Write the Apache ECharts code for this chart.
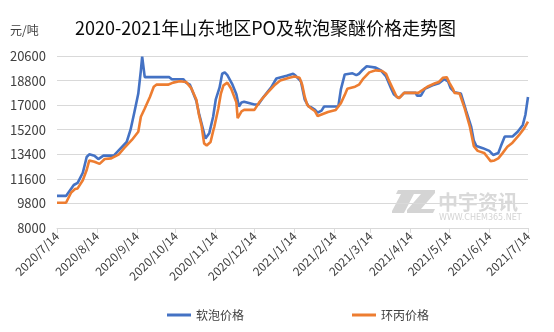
<!DOCTYPE html>
<html>
<head>
<meta charset="utf-8">
<script src="https://cdn.jsdelivr.net/npm/echarts@6/dist/echarts.min.js"></script>
<style>
  html, body { margin: 0; padding: 0; background: #fff; }
  #chart { width: 554px; height: 332px; }
</style>
</head>
<body>
<div id="chart"></div>
<script>
// 软泡聚醚价格 (元/吨)
const softFoamDates = [
  '2020-07-14','2020-07-21','2020-07-27','2020-07-30','2020-08-03','2020-08-06','2020-08-08','2020-08-12',
  '2020-08-15','2020-08-19','2020-08-27','2020-08-31','2020-09-06','2020-09-09','2020-09-12','2020-09-15',
  '2020-09-17','2020-09-18','2020-09-20','2020-10-09','2020-10-11','2020-10-20','2020-10-22','2020-10-25',
  '2020-10-30','2020-11-01','2020-11-04','2020-11-06','2020-11-09','2020-11-12','2020-11-14','2020-11-17',
  '2020-11-19','2020-11-21','2020-11-23','2020-11-27','2020-11-30','2020-12-02','2020-12-04','2020-12-06',
  '2020-12-14','2020-12-17','2020-12-21','2020-12-27','2020-12-31','2021-01-08','2021-01-13','2021-01-15',
  '2021-01-19','2021-01-22','2021-01-25','2021-01-27','2021-01-30','2021-02-01','2021-02-04','2021-02-06',
  '2021-02-17','2021-02-19','2021-02-22','2021-02-28','2021-03-03','2021-03-05','2021-03-08','2021-03-11',
  '2021-03-18','2021-03-22','2021-03-26','2021-03-30','2021-04-01','2021-04-04','2021-04-06','2021-04-09',
  '2021-04-18','2021-04-19','2021-04-22','2021-04-25','2021-05-01','2021-05-06','2021-05-10','2021-05-13',
  '2021-05-15','2021-05-18','2021-05-23','2021-05-27','2021-05-31','2021-06-02','2021-06-04','2021-06-09',
  '2021-06-14','2021-06-17','2021-06-21','2021-06-23','2021-06-26','2021-07-02','2021-07-06','2021-07-10',
  '2021-07-12','2021-07-14'
];
const softFoamPrices = [
  10350, 10350, 11150, 11300, 12050, 13200, 13400, 13300,
  13050, 13300, 13300, 13700, 14300, 15200, 16500, 17850,
  19550, 20550, 19050, 19050, 18900, 18900, 18650, 18500,
  17300, 16400, 15300, 14550, 14950, 16150, 17400, 18300,
  19300, 19400, 19200, 18500, 17800, 16900, 17200, 17250,
  17050, 17050, 17600, 18300, 18950, 19150, 19300, 19150,
  18750, 17400, 16900, 16850, 16650, 16450, 16600, 16900,
  16900, 18150, 19250, 19330, 19200, 19300, 19600, 19850,
  19750, 19550, 19100, 18200, 17800, 17550, 17600, 17900,
  17900, 17700, 17700, 18200, 18450, 18600, 18900, 18750,
  18250, 17950, 17850, 16600, 15400, 14400, 14000, 13850,
  13650, 13350, 13500, 14000, 14700, 14700, 15050, 15550,
  16300, 17600
];

// 环丙价格 (元/吨)
const poDates = [
  '2020-07-14','2020-07-21','2020-07-25','2020-07-28','2020-07-30','2020-08-03','2020-08-06','2020-08-08',
  '2020-08-12','2020-08-16','2020-08-20','2020-08-25','2020-08-28','2020-08-31','2020-09-04','2020-09-10',
  '2020-09-15','2020-09-17','2020-09-20','2020-09-24','2020-09-27','2020-09-29','2020-10-08','2020-10-12',
  '2020-10-17','2020-10-22','2020-10-26','2020-10-30','2020-11-01','2020-11-03','2020-11-05','2020-11-07',
  '2020-11-10','2020-11-12','2020-11-13','2020-11-16','2020-11-18','2020-11-20','2020-11-23','2020-11-26',
  '2020-11-30','2020-12-01','2020-12-04','2020-12-06','2020-12-14','2020-12-18','2020-12-24','2020-12-30',
  '2021-01-03','2021-01-10','2021-01-14','2021-01-18','2021-01-20','2021-01-22','2021-01-24','2021-01-27',
  '2021-01-30','2021-02-01','2021-02-05','2021-02-09','2021-02-15','2021-02-19','2021-02-22','2021-02-24',
  '2021-03-02','2021-03-05','2021-03-08','2021-03-13','2021-03-18','2021-03-23','2021-03-26','2021-03-28',
  '2021-03-31','2021-04-03','2021-04-05','2021-04-09','2021-04-20','2021-04-27','2021-05-03','2021-05-06',
  '2021-05-09','2021-05-12','2021-05-14','2021-05-17','2021-05-18','2021-05-22','2021-05-26','2021-05-30',
  '2021-06-02','2021-06-05','2021-06-10','2021-06-13','2021-06-15','2021-06-18','2021-06-21','2021-06-24',
  '2021-06-28','2021-07-02','2021-07-07','2021-07-11','2021-07-14'
];
const poPrices = [
  9850, 9850, 10600, 10850, 10900, 11500, 12250, 12950,
  12850, 12700, 13050, 13100, 13250, 13400, 13850, 14450,
  15050, 16150, 16750, 17600, 18350, 18500, 18500, 18650,
  18750, 18700, 18250, 17400, 16300, 15500, 14200, 14050,
  14300, 15100, 15450, 16750, 17850, 18450, 18650, 18200,
  17200, 16050, 16550, 16650, 16650, 17250, 17900, 18500,
  18800, 19000, 19100, 19000, 18500, 17600, 17000, 16750,
  16550, 16200, 16350, 16500, 16650, 17150, 17750, 18200,
  18350, 18500, 18900, 19400, 19550, 19500, 19300, 18850,
  18250, 17650, 17500, 17900, 17900, 18350, 18600, 18700,
  19000, 19050, 18650, 18150, 17900, 17850, 16750, 15400,
  14000, 13650, 13500, 13150, 12900, 12950, 13100, 13450,
  13950, 14250, 14800, 15300, 15800
];

// 坐标轴刻度
const monthTicks = [
  '2020-07-14','2020-08-14','2020-09-14','2020-10-14','2020-11-14','2020-12-14','2021-01-14',
  '2021-02-14','2021-03-14','2021-04-14','2021-05-14','2021-06-14','2021-07-14'
];
const priceTicks = [8000, 9800, 11600, 13400, 15200, 17000, 18800, 20600];

const seriesNames = ['软泡价格', '环丙价格'];

// 横轴以起始日期后的天数计
const DAY = 86400000;
function parseDate(s) {
  const p = s.split('-').map(Number);
  return Date.UTC(p[0], p[1] - 1, p[2]);
}
const startTime = parseDate(monthTicks[0]);
function toDay(s) {
  return Math.round((parseDate(s) - startTime) / DAY);
}
function dayLabel(v) {
  const d = new Date(startTime + Math.round(v) * DAY);
  return d.getUTCFullYear() + '/' + (d.getUTCMonth() + 1) + '/' + d.getUTCDate();
}
function pairs(dates, values) {
  return dates.map((d, i) => [toDay(d), values[i]]);
}
const tickDays = monthTicks.map(toDay);
const FONT = '"Noto Sans CJK SC", "Noto Sans", sans-serif';

const chart = echarts.init(document.getElementById('chart'), null, { renderer: 'canvas' });
chart.setOption({
  animation: false,
  backgroundColor: '#ffffff',
  title: {
    text: '2020-2021年山东地区PO及软泡聚醚价格走势图',
    left: 70,
    top: 14,
    textStyle: { fontFamily: FONT, fontSize: 18, fontWeight: 'normal', color: '#0a0a0a' }
  },
  legend: {
    data: seriesNames,
    left: 162,
    top: 304,
    itemWidth: 24,
    itemHeight: 3,
    itemGap: 108,
    icon: 'rect',
    textStyle: { fontFamily: FONT, fontSize: 12, color: '#404040' }
  },
  grid: { left: 57, right: 26, top: 56, bottom: 104, containLabel: false },
  xAxis: {
    type: 'value',
    min: tickDays[0],
    max: tickDays[tickDays.length - 1],
    axisLine: { show: true, onZero: false, lineStyle: { color: '#d9d9d9', width: 1 } },
    axisTick: { show: true, length: 5, lineStyle: { color: '#d9d9d9' }, customValues: tickDays },
    splitLine: { show: false },
    axisLabel: {
      customValues: tickDays,
      rotate: 45,
      margin: 6,
      hideOverlap: false,
      fontFamily: FONT,
      fontSize: 12,
      color: '#404040',
      formatter: dayLabel
    }
  },
  yAxis: {
    type: 'value',
    min: priceTicks[0],
    max: priceTicks[priceTicks.length - 1],
    name: '元/吨',
    nameLocation: 'end',
    nameGap: 0,
    nameTextStyle: { fontFamily: FONT, fontSize: 12, color: '#404040', align: 'left', padding: [0, 0, 20, -47] },
    axisLine: { show: false },
    axisTick: { show: false, customValues: priceTicks },
    splitLine: { show: true, lineStyle: { color: '#d9d9d9', width: 1 } },
    axisLabel: {
      customValues: priceTicks,
      margin: 11,
      fontFamily: FONT,
      fontSize: 13,
      color: '#404040',
      formatter: (v) => String(v)
    }
  },
  series: [
    {
      name: seriesNames[0],
      type: 'line',
      data: pairs(softFoamDates, softFoamPrices),
      showSymbol: false,
      symbol: 'none',
      lineStyle: { color: '#4472C4', width: 2.6 },
      itemStyle: { color: '#4472C4' }
    },
    {
      name: seriesNames[1],
      type: 'line',
      data: pairs(poDates, poPrices),
      showSymbol: false,
      symbol: 'none',
      lineStyle: { color: '#ED7D31', width: 2.6 },
      itemStyle: { color: '#ED7D31' }
    }
  ],
  graphic: [
    {
      type: 'group',
      left: 392,
      top: 190,
      silent: true,
      children: [
        { type: 'polygon', shape: { points: [[6, 0], [24, 0], [12, 23], [0, 23], [0, 21], [9, 4], [4, 4]] }, style: { fill: '#d4d4d4' } },
        { type: 'polygon', shape: { points: [[20, 0], [43, 0], [43, 3], [29, 19], [43, 19], [41, 23], [15, 23], [15, 20], [29, 4], [18, 4]] }, style: { fill: '#d4d4d4' } },
        { type: 'text', x: 46, y: 2, style: { text: '中宇资讯', font: 'bold 20px "Noto Sans CJK SC"', fill: '#d9d9d9' } },
        { type: 'text', x: 47, y: 24, style: { text: 'WWW.CHEM365.NET', font: '8px "DejaVu Sans"', fill: '#d4d4d4' } }
      ]
    }
  ]
});
</script>
</body>
</html>
